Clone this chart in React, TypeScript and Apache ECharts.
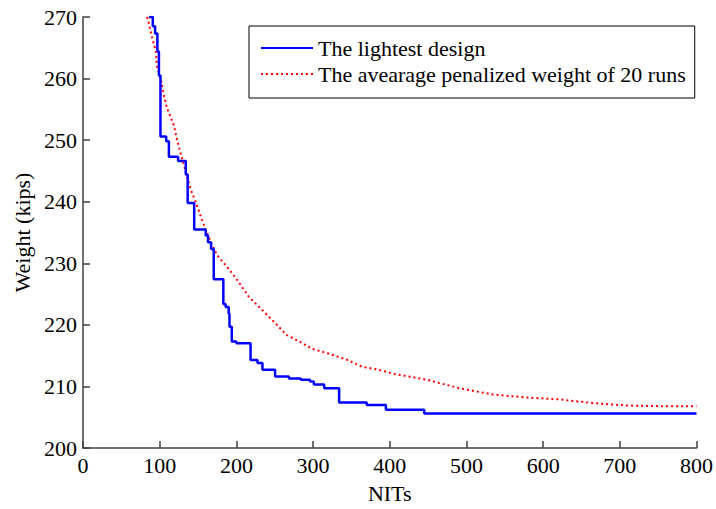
import React, { useEffect, useRef } from "react";
import * as echarts from "echarts";

const xTicks = [0, 100, 200, 300, 400, 500, 600, 700, 800];
const yTicks = [200, 210, 220, 230, 240, 250, 260, 270];

const seriesNames = ["The lightest design", "The avearage penalized weight of 20 runs"];

const bestX = [86, 91, 94, 97, 99, 101, 108.5, 112, 124, 134, 136.5, 145, 160, 163, 167, 170.5, 183, 186, 190, 191, 194, 200, 218.5, 227.5, 234, 250.5, 268.5, 284, 296, 301, 314.5, 334, 370, 395, 445, 800];
const bestY = [270, 268.5, 267.3, 264.4, 260.5, 250.6, 249.8, 247.3, 246.6, 244.4, 239.8, 235.5, 234.5, 233.4, 232.3, 227.4, 223.4, 222.9, 221.8, 219.7, 217.3, 217.0, 214.3, 213.8, 212.7, 211.6, 211.3, 211.1, 210.8, 210.3, 209.7, 207.4, 207.0, 206.2, 205.6, 205.6];

const avgX = [83.5, 86, 88.7, 95, 96.6, 101.8, 105.7, 109.6, 118.8, 122.7, 127.9, 134.4, 141, 147.5, 155, 160.5, 168, 175, 190.5, 201, 216.6, 229.7, 249, 265, 282, 299, 321, 343, 364, 386, 403, 448, 491, 534, 578, 621, 664, 709, 752, 800];
const avgY = [270, 268.9, 267.3, 264.4, 261.9, 259.7, 257.1, 255.2, 252.3, 250, 247.6, 244.7, 241.8, 239.8, 237.1, 235.3, 233.1, 231.3, 229, 227.3, 224.5, 222.9, 220.5, 218.4, 217.3, 216.1, 215.3, 214.4, 213.2, 212.7, 212.1, 211.1, 209.7, 208.7, 208.2, 207.9, 207.3, 206.9, 206.8, 206.8];

const FONT = "'Liberation Serif', 'Times New Roman', serif";

export default function App() {
  const ref = useRef<HTMLDivElement>(null);
  useEffect(() => {
    if (!ref.current) return;
    const chart = echarts.init(ref.current, undefined, { renderer: "svg" });
    const axisCommon = {
      axisLine: { show: true, lineStyle: { color: "#404040", width: 1.5 } },
      axisTick: { show: true, inside: true, length: 7, lineStyle: { color: "#404040", width: 1.5 } },
      splitLine: { show: false },
      axisLabel: { color: "#000", fontFamily: FONT, fontSize: 22 },
      nameTextStyle: { color: "#000", fontFamily: FONT, fontSize: 22 },
    };
    chart.setOption({
      animation: false,
      backgroundColor: "#fff",
      grid: { left: 83, right: 18, top: 17, bottom: 58, containLabel: false },
      legend: {
        show: true,
        orient: "vertical",
        left: 249,
        top: 26,
        padding: [9, 9, 11, 11],
        itemGap: 0,
        itemWidth: 52,
        itemHeight: 26,
        borderColor: "#000",
        borderWidth: 1,
        backgroundColor: "#fff",
        itemStyle: { color: "transparent", borderColor: "transparent", borderWidth: 0, opacity: 0 },
        textStyle: { color: "#000", fontFamily: FONT, fontSize: 22, lineHeight: 26 },
        data: seriesNames,
      },
      xAxis: {
        type: "value",
        min: xTicks[0],
        max: xTicks[xTicks.length - 1],
        interval: xTicks[1] - xTicks[0],
        name: "NITs",
        nameLocation: "middle",
        nameGap: 34,
        ...axisCommon,
        axisLabel: { ...axisCommon.axisLabel, margin: 6 },
      },
      yAxis: {
        type: "value",
        min: yTicks[0],
        max: yTicks[yTicks.length - 1],
        interval: yTicks[1] - yTicks[0],
        name: "Weight (kips)",
        nameLocation: "middle",
        nameGap: 46,
        ...axisCommon,
        axisLabel: { ...axisCommon.axisLabel, margin: 6 },
      },
      series: [
        {
          name: seriesNames[0],
          type: "line",
          step: "end",
          symbol: "none",
          color: "#0000ff",
          lineStyle: { color: "#0000ff", width: 2.5 },
          data: bestX.map((x, i) => [x, bestY[i]]),
          z: 3,
        },
        {
          name: seriesNames[1],
          type: "line",
          symbol: "none",
          color: "#ff0000",
          lineStyle: { color: "#ff0000", width: 2, type: [2, 3] },
          data: avgX.map((x, i) => [x, avgY[i]]),
          z: 2,
        },
      ],
    });
    return () => chart.dispose();
  }, []);
  return <div ref={ref} style={{ width: 716, height: 509, position: "absolute", left: 0, top: 0 }} />;
}
